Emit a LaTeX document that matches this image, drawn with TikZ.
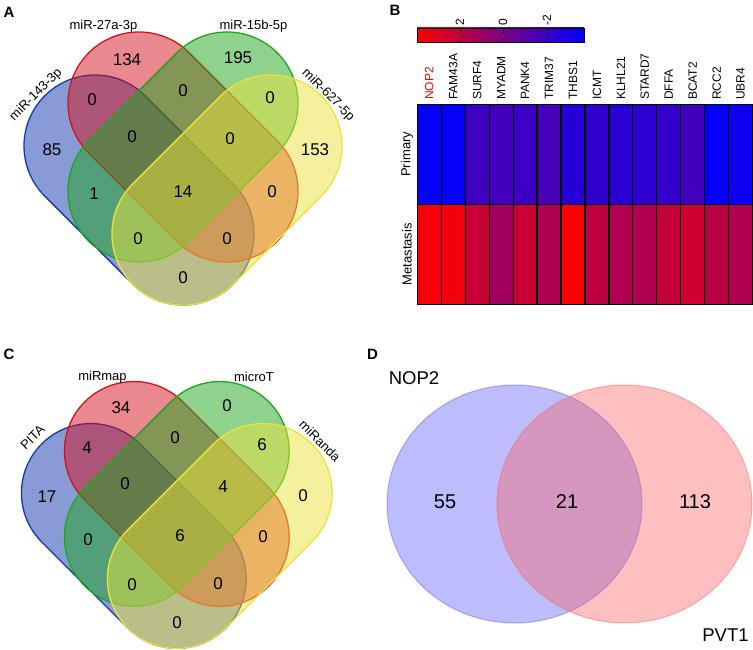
\documentclass[tikz,border=0pt]{standalone}
\usepackage{fontspec}
\setmainfont{Liberation Sans}

% Colores de los conjuntos
\definecolor{vazul}{RGB}{20,55,175}
\definecolor{vrojo}{RGB}{212,18,30}
\definecolor{vverde}{RGB}{30,165,30}
\definecolor{vamarillo}{RGB}{236,226,60}
\definecolor{dazul}{RGB}{90,90,250}
\definecolor{drojo}{RGB}{250,95,95}

\tikzset{
	conjunto/.style={draw=#1, fill=#1, fill opacity=0.5, line width=1.3pt},
	circulo/.style={draw=#1, draw opacity=0.45, fill=#1, fill opacity=0.4, line width=1pt},
	cifra/.style={font=\fontsize{17}{17}\selectfont, inner sep=0pt},
	cifrad/.style={font=\fontsize{20}{20}\selectfont, inner sep=0pt},
	nombred/.style={font=\fontsize{18.5}{18.5}\selectfont, inner sep=0pt},
	etiq/.style={font=\fontsize{13}{13}\selectfont, inner sep=0pt},
	letra/.style={font=\fontsize{15}{15}\selectfont\bfseries, inner sep=0pt},
	celda/.style={draw=black, line width=1.2pt},
	gen/.style={font=\fontsize{12}{12}\selectfont, rotate=90, anchor=west, inner sep=0pt},
	fila/.style={font=\fontsize{13}{13}\selectfont, rotate=90, inner sep=0pt},
}

% Conjunto alargado: estilo, extremo, angulo, longitud
\newcommand{\estadio}[4]{%
	\path[#1] (#2) ++(#3-90:71) -- ++(#3:#4)
		arc[start angle=#3-90, delta angle=180, radius=71] -- ++(#3+180:#4)
		arc[start angle=#3+90, delta angle=180, radius=71] -- cycle;}

% Los cuatro conjuntos
\newcommand{\vennfour}{%
	\estadio{conjunto=vazul}{95,146}{45}{124.5}
	\estadio{conjunto=vrojo}{139,103}{45}{124.5}
	\estadio{conjunto=vverde}{227,103}{135}{124.5}
	\estadio{conjunto=vamarillo}{271,146}{135}{124.5}}

\begin{document}
\begin{tikzpicture}[x=1pt, y=-1pt]
		\useasboundingbox (0,0) rectangle (753,650);
		
		% Panel A
		\node[letra] (la) at (9,12) {A};
		\vennfour
		\node[etiq] (t27a) at (103.5,26) {miR-27a-3p};
		\node[etiq] (t15b) at (253.5,26) {miR-15b-5p};
		\node[etiq, rotate=45] (t143) at (36,95) {miR-143-3p};
		\node[etiq, rotate=-45] (t627) at (328,95) {miR-627-5p};
		
		\node[cifra] (a134) at (127,60) {134};
		\node[cifra] (a195) at (238,58) {195};
		\node[cifra] (a85) at (52,150) {85};
		\node[cifra] (a153) at (315,150) {153};
		\node[cifra] (abr) at (92,100) {0};
		\node[cifra] (arg) at (183,91) {0};
		\node[cifra] (agy) at (270,98) {0};
		\node[cifra] (abrg) at (132,137) {0};
		\node[cifra] (argy) at (230,139) {0};
		\node[cifra] (abg) at (94,194) {1};
		\node[cifra] (atodos) at (183,192) {14};
		\node[cifra] (ary) at (272,192) {0};
		\node[cifra] (abgy) at (138,239) {0};
		\node[cifra] (abry) at (227,239) {0};
		\node[cifra] (aby) at (183,278) {0};
		
		% Panel B
		\node[letra] (lb) at (395,10.5) {B};
		\shade[left color=red, right color=blue] (417,28) rectangle (584,42);
		\draw[line width=0.8pt] (417,28) rectangle (584,42);
		\draw[densely dotted, line width=0.8pt] (460,28) -- (460,42);
		\draw[densely dotted, line width=0.8pt] (503,28) -- (503,42);
		\draw[densely dotted, line width=0.8pt] (547,28) -- (547,42);
		\node[gen] (e2) at (460,26) {2};
		\node[gen] (e0) at (503,26) {0};
		\node[gen] (em2) at (547,26) {-2};
		
		\foreach \g/\c/\p/\m [count=\i] in {NOP2/red/98/3, FAM43A/black/98/5,
			SURF4/black/75/21, MYADM/black/74/37, PANK4/black/77/21,
			TRIM37/black/72/31, THBS1/black/85/1, ICMT/black/81/25,
			KLHL21/black/83/31, STARD7/black/82/31, DFFA/black/80/23,
			BCAT2/black/74/19, RCC2/black/98/27, UBR4/black/95/31} {
			\draw[celda, fill=blue!\p!red] ({417.3+23.95*(\i-1)},104.3) rectangle ++(23.95,100);
			\draw[celda, fill=blue!\m!red] ({417.3+23.95*(\i-1)},204.3) rectangle ++(23.95,100);
			\node[gen, text=\c] (g\i) at ({429.3+23.95*(\i-1)},100) {\g};
		}
		\node[fila] (prim) at (407,154.3) {Primary};
		\node[fila] (meta) at (407,254.3) {Metastasis};
		
		% Panel C
		\node[letra] (lc) at (9,354.5) {C};
		\begin{scope}[shift={(-2,350.3)}, scale=0.977]
			\vennfour
		\end{scope}
		\node[etiq] (tmap) at (102.5,377.5) {miRmap};
		\node[etiq] (tmic) at (254,377) {microT};
		\node[etiq, rotate=45] (tpita) at (32.5,437.5) {PITA};
		\node[etiq, rotate=-45] (tran) at (320,441) {miRanda};
		
		\node[cifra] (c34) at (121,408) {34};
		\node[cifra] (cg) at (227,406) {0};
		\node[cifra] (c17) at (47,497) {17};
		\node[cifra] (cy) at (303,496) {0};
		\node[cifra] (cbr) at (87,448) {4};
		\node[cifra] (crg) at (175,438) {0};
		\node[cifra] (cgy) at (262,445) {6};
		\node[cifra] (cbrg) at (125,484) {0};
		\node[cifra] (crgy) at (223,487) {4};
		\node[cifra] (cbg) at (88,540) {0};
		\node[cifra] (ctodos) at (180,536) {6};
		\node[cifra] (cry) at (263,537) {0};
		\node[cifra] (cbgy) at (132,585) {0};
		\node[cifra] (cbry) at (218,584) {0};
		\node[cifra] (cby) at (177,623) {0};
		
		% Panel D
		\node[letra] (ld) at (372.5,354.5) {D};
		\draw[circulo=dazul] (514.5,504) ellipse [x radius=127.5, y radius=119];
		\draw[circulo=drojo] (624.5,504) ellipse [x radius=127.5, y radius=119];
		\node[nombred] (nop) at (414,378) {NOP2};
		\node[nombred] (pvt) at (725.5,635) {PVT1};
		\node[cifrad] (d55) at (445,502) {55};
		\node[cifrad] (d21) at (567,502) {21};
		\node[cifrad] (d113) at (695,502) {113};
	\end{tikzpicture}
\end{document}
